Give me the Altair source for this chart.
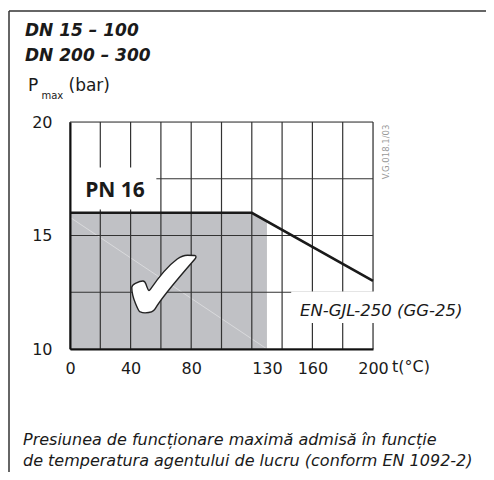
import altair as alt
import pandas as pd

# ---- data ----
temps = [0, 120, 200]
pmax = [16, 16, 13]
area_t = [0, 120, 130]
area_p = [16, 16, 15.6]
x_grid = [0, 20, 40, 60, 80, 100, 120, 140, 160, 180, 200]
y_grid = [10, 12.5, 15, 17.5, 20]
x_labels = [0, 40, 80, 130, 160, 200]
y_labels = [10, 15, 20]

FONT = "DejaVu Sans"
W, H = 303, 227

xs = alt.Scale(domain=[0, 200], nice=False, zero=False)
ys = alt.Scale(domain=[10, 20], nice=False, zero=False)

line_df = pd.DataFrame({"t": temps, "p": pmax})
area_df = pd.DataFrame({"t": area_t, "p": area_p})

xaxis = alt.Axis(values=x_labels, ticks=False, grid=False, domain=True, domainColor="#111",
                 domainWidth=2, labelFont=FONT, labelFontSize=16, labelColor="#1a1a1a",
                 labelPadding=11, title=None, zindex=1, labelFlush=False)
yaxis = alt.Axis(values=y_labels, ticks=False, grid=False, domain=True, domainColor="#111",
                 domainWidth=2, labelFont=FONT, labelFontSize=16, labelColor="#1a1a1a",
                 labelPadding=18, title=None, zindex=1)

area = alt.Chart(area_df).mark_area(color="#c0c1c5", opacity=1).encode(
    x=alt.X("t:Q", scale=xs, axis=xaxis),
    y=alt.Y("p:Q", scale=ys, axis=yaxis),
    y2=alt.datum(10),
)

artifact = alt.Chart(pd.DataFrame({"t": [0], "p": [15.8], "t2": [130], "p2": [10]})).mark_rule(
    color="white", strokeWidth=0.8, opacity=0.5).encode(
    x=alt.X("t:Q", scale=xs), y=alt.Y("p:Q", scale=ys), x2="t2:Q", y2="p2:Q")

vgrid = alt.Chart(pd.DataFrame({"g": x_grid})).mark_rule(color="#333", strokeWidth=1.2).encode(
    x=alt.X("g:Q", scale=xs), y=alt.datum(10), y2=alt.datum(20))
hgrid = alt.Chart(pd.DataFrame({"g": y_grid})).mark_rule(color="#333", strokeWidth=1.2).encode(
    y=alt.Y("g:Q", scale=ys), x=alt.datum(0), x2=alt.datum(200))

boxes = alt.Chart(pd.DataFrame({
    "x1": [0.6, 146], "x2": [57, 262], "y1": [16.15, 11.15], "y2": [18.0, 12.53]
})).mark_rect(color="white").encode(
    x=alt.X("x1:Q", scale=xs), x2="x2:Q", y=alt.Y("y1:Q", scale=ys), y2="y2:Q")

line = alt.Chart(line_df).mark_line(color="#1a1a1a", strokeWidth=2.6).encode(
    x=alt.X("t:Q", scale=xs), y=alt.Y("p:Q", scale=ys))

one = alt.Data(values=[{}])


def txt(s, x, y, size, weight="normal", style="normal", color="#1a1a1a", align="left", angle=0, font=FONT):
    kw = dict(text=s, font=font, fontSize=size, fontWeight=weight, fontStyle=style,
              color=color, align=align, baseline="middle")
    if angle:
        kw["angle"] = angle
    return alt.Chart(one).mark_text(**kw).encode(x=alt.value(x), y=alt.value(y))


check = alt.Chart(one).mark_text(text="✔", font="DejaVu Sans", fontSize=106, fill="white",
                                 stroke="#222", strokeWidth=1.4, align="center",
                                 baseline="middle").encode(x=alt.value(94), y=alt.value(168))

texts = [
    txt("DN 15 – 100", -45, -91, 17, "bold", "italic"),
    txt("DN 200 – 300", -45, -66, 17, "bold", "italic"),
    txt("P", -42, -36, 17),
    txt("max", -28.5, -26, 10),
    txt("(bar)", -1.5, -36, 17),
    txt("PN 16", 45, 68.5, 21, "bold", align="center", font="Open Sans"),
    txt("EN-GJL-250 (GG-25)", 230, 189, 16.5, style="italic"),
    txt("t(°C)", 322, 245, 16),
    txt("V.G.018.1/03", 316, 30, 8.5, color="#9a9a9a", align="center", angle=270),
    txt("Presiunea de funcționare maximă admisă în funcție", -47, 318, 16, style="italic"),
    txt("de temperatura agentului de lucru (conform EN 1092-2)", -47, 339, 16, style="italic"),
]

frame_left = alt.Chart(one).mark_rule(color="#333", strokeWidth=1.5).encode(
    x=alt.value(-61), y=alt.value(-111), y2=alt.value(370))
frame_top = alt.Chart(one).mark_rule(color="#333", strokeWidth=1.5).encode(
    x=alt.value(-61), x2=alt.value(420), y=alt.value(-111))

chart = alt.layer(area, artifact, vgrid, hgrid, boxes, line, check, frame_left, frame_top, *texts).properties(
    width=W, height=H,
    autosize=alt.AutoSizeParams(type="none"),
    padding={"left": 62, "top": 114, "right": 113, "bottom": 123},
).configure_view(stroke=None).configure(background="white")

chart.save("out.html", embed_options={"renderer": "svg", "actions": False})
